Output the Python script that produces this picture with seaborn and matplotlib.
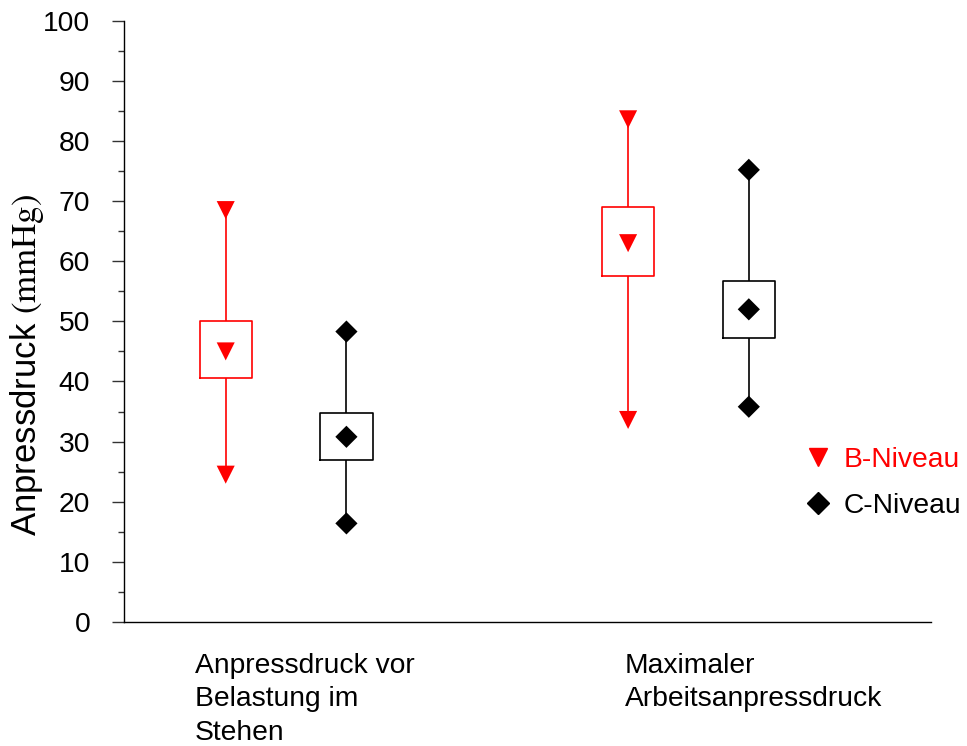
import numpy as np
import pandas as pd
import matplotlib
matplotlib.use("Agg")
import matplotlib.pyplot as plt
from matplotlib.lines import Line2D
from matplotlib.ticker import MultipleLocator
import seaborn as sns

# ---- data ----
categories = ["Anpressdruck vor\nBelastung im\nStehen", "Maximaler\nArbeitsanpressdruck"]
levels = ["B-Niveau", "C-Niveau"]
b_min = [24.5, 33.6]
b_q1 = [40.5, 57.6]
b_med = [45.0, 63.0]
b_q3 = [50.0, 69.1]
b_max = [68.5, 83.6]
c_min = [16.4, 35.8]
c_q1 = [26.9, 47.2]
c_med = [30.8, 52.0]
c_q3 = [34.8, 56.7]
c_max = [48.3, 75.2]
yticks = list(range(0, 101, 10))

sns.set_style("ticks")
plt.rcParams["font.family"] = ["Liberation Sans", "DejaVu Sans"]
plt.rcParams["mathtext.fontset"] = "stix"
for k in ["text.color", "axes.labelcolor", "xtick.color", "ytick.color", "axes.edgecolor"]:
    plt.rcParams[k] = "black"

colors = {"B-Niveau": "#ff0000", "C-Niveau": "#000000"}
markers = {"B-Niveau": "v", "C-Niveau": "D"}
msize = {"B-Niveau": 13, "C-Niveau": 11.3}

stats = {
    "B-Niveau": (b_min, b_q1, b_med, b_q3, b_max),
    "C-Niveau": (c_min, c_q1, c_med, c_q3, c_max),
}
rows = []
for lev, arrs in stats.items():
    for i, cat in enumerate(categories):
        for a in arrs:
            rows.append({"cat": cat, "level": lev, "value": a[i]})
df = pd.DataFrame(rows)

fig = plt.figure(figsize=(9.67, 7.46), dpi=100)
ax = fig.add_axes([124.3 / 967, 1 - 622 / 746, (931.3 - 124.3) / 967, (622 - 20.7) / 746])

sns.boxplot(data=df, x="cat", y="value", hue="level", order=categories,
            hue_order=levels, palette=colors, fill=False, whis=(0, 100),
            width=0.6, gap=0.567, showcaps=False, showfliers=False,
            linewidth=1.2, medianprops={"linewidth": 0}, legend=False, ax=ax)

offsets = {"B-Niveau": -0.15, "C-Niveau": 0.15}
for lev in levels:
    mn, q1, md, q3, mx = stats[lev]
    xs, ys = [], []
    for i in range(len(categories)):
        for v in (mn[i], md[i], mx[i]):
            xs.append(i + offsets[lev])
            ys.append(v)
    sns.scatterplot(x=xs, y=ys, marker=markers[lev], s=msize[lev] ** 2,
                    color=colors[lev], edgecolor="none", ax=ax, zorder=5,
                    clip_on=False)

ax.set_xlim(-0.402, 1.6035)
ax.set_ylim(0, 100)
ax.set_xticks([])
ax.set_xlabel("")
ax.set_yticks(yticks)
ax.set_yticklabels([str(t) for t in yticks])
ax.yaxis.set_minor_locator(MultipleLocator(5))
ax.tick_params(axis="y", which="major", length=9, width=1, labelsize=20.3, pad=15.5, color="#333333")
ax.tick_params(axis="y", which="minor", length=4.3, width=1, color="#333333")
for s in ["top", "right"]:
    ax.spines[s].set_visible(False)
for s in ["left", "bottom"]:
    ax.spines[s].set_linewidth(1.0)
    ax.spines[s].set_color("black")

ax.set_ylabel(r"Anpressdruck $\mathrm{(mmHg)}$", fontsize=25)
ax.yaxis.set_label_coords(-0.097, 0.4276)

# category labels below the axis
label_x = [-0.226, 0.842]
for lx, cat in zip(label_x, categories):
    ax.text(lx, -0.052, cat, transform=ax.get_xaxis_transform(), ha="left", va="top",
            fontsize=20.3, linespacing=1.36)

handles = [Line2D([], [], linestyle="none", marker=markers[l], color=colors[l],
                  markersize=13 if l == "B-Niveau" else 11.5)
           for l in levels]
fig.legend(handles, levels, loc="center left", bbox_to_anchor=(804 / 967, 1 - 483 / 746),
           frameon=False, fontsize=20.3, handlelength=1.0, handletextpad=0.4,
           borderpad=0, borderaxespad=0, labelspacing=0.72, labelcolor=[colors[l] for l in levels])

fig.savefig("out.png", dpi=100)
